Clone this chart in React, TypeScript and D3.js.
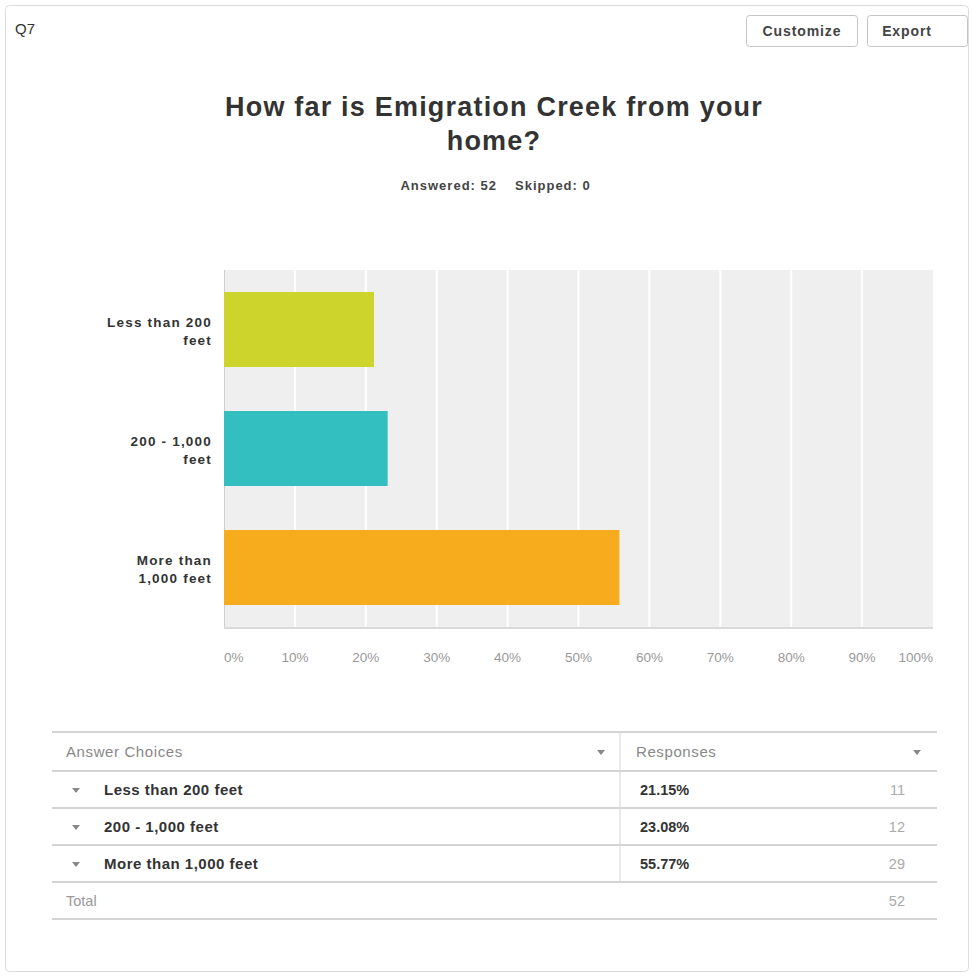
import React from "react";
import * as d3 from "d3";

const categories = ["Less than 200 feet", "200 - 1,000 feet", "More than 1,000 feet"];
const axisLabelLines = [["Less than 200", "feet"], ["200 - 1,000", "feet"], ["More than", "1,000 feet"]];
const percents = [21.15, 23.08, 55.77];
const counts = [11, 12, 29];
const barColors = ["#cdd42b", "#33bebf", "#f7ac1e"];
const ticks = [0, 10, 20, 30, 40, 50, 60, 70, 80, 90, 100];
const total = 52;
const answered = 52;
const skipped = 0;

const W = 972;
const H = 977;
const plot = { left: 224, right: 933, top: 270, bottom: 627 };

export default function App() {
  const x = d3.scaleLinear().domain([0, 100]).range([plot.left, plot.right]);
  const y = d3
    .scaleBand<string>()
    .domain(categories)
    .range([plot.top, plot.bottom])
    .paddingInner(0.37)
    .paddingOuter(0.185);

  const font = "'Liberation Sans', Arial, Helvetica, sans-serif";
  const tbl = { left: 52, right: 937, div: 620 };
  const rowLines = [732, 771, 808, 845, 882, 919];

  const tri = (cx: number, cy: number, c: string) => (
    <path d={`M${cx - 4},${cy - 2} L${cx + 4},${cy - 2} L${cx},${cy + 3} Z`} fill={c} />
  );

  return (
    <div style={{ position: "absolute", left: 0, top: 0 }}>
      <svg width={W} height={H} style={{ display: "block", fontFamily: font }}>
        <rect x={0} y={0} width={W} height={H} fill="#ffffff" />
        <rect x={5.5} y={5.5} width={963} height={966} rx={4} fill="#ffffff" stroke="#dcdcdc" />
        <text x={15} y={34} fontSize={15} fill="#333">Q7</text>

        {/* buttons */}
        <rect x={746.5} y={15.5} width={111} height={31} rx={3} fill="#fff" stroke="#c4c4c4" />
        <text x={802} y={36} fontSize={14} fontWeight="bold" fill="#444" textAnchor="middle" letterSpacing={0.9}>Customize</text>
        <rect x={867.5} y={15.5} width={100} height={31} rx={3} fill="#fff" stroke="#c4c4c4" />
        <text x={907} y={36} fontSize={14} fontWeight="bold" fill="#444" textAnchor="middle" letterSpacing={0.9}>Export</text>

        {/* title */}
        <text x={494} y={116} fontSize={27} fontWeight="bold" fill="#333" textAnchor="middle" letterSpacing={1.2}>How far is Emigration Creek from your</text>
        <text x={494} y={150} fontSize={27} fontWeight="bold" fill="#333" textAnchor="middle" letterSpacing={1.2}>home?</text>
        <text x={497} y={190} fontSize={13} fontWeight="bold" fill="#444" textAnchor="end" letterSpacing={1}>
          {`Answered: ${answered}`}
        </text>
        <text x={515} y={190} fontSize={13} fontWeight="bold" fill="#444" textAnchor="start" letterSpacing={1}>
          {`Skipped: ${skipped}`}
        </text>

        {/* plot background */}
        <rect x={plot.left} y={plot.top} width={plot.right - plot.left} height={plot.bottom - plot.top} fill="#efefef" />
        {ticks.slice(1, -1).map((t) => (
          <line key={t} x1={x(t)} x2={x(t)} y1={plot.top} y2={plot.bottom} stroke="#ffffff" strokeWidth={2} />
        ))}
        <line x1={plot.left} x2={plot.right} y1={plot.bottom + 1} y2={plot.bottom + 1} stroke="#dadada" strokeWidth={2} />
        <line x1={plot.left + 0.5} x2={plot.left + 0.5} y1={plot.top} y2={plot.bottom} stroke="#cfcfcf" strokeWidth={1} />

        {/* bars */}
        {categories.map((c, i) => (
          <rect key={c} x={x(0)} y={y(c)} width={x(percents[i]) - x(0)} height={y.bandwidth()} fill={barColors[i]} />
        ))}

        {/* y labels */}
        {categories.map((c, i) => {
          const cy = (y(c) as number) + y.bandwidth() / 2;
          return (
            <text key={c} x={212} y={cy - 3} fontSize={13.5} fontWeight="bold" fill="#333" textAnchor="end" letterSpacing={1.2}>
              {axisLabelLines[i].map((l, j) => (
                <tspan key={j} x={212} dy={j === 0 ? 0 : 18}>{l}</tspan>
              ))}
            </text>
          );
        })}

        {/* x tick labels */}
        {ticks.map((t, i) => (
          <text
            key={t}
            x={x(t)}
            y={662}
            fontSize={13.5}
            fill="#999"
            textAnchor={i === 0 ? "start" : i === ticks.length - 1 ? "end" : "middle"}
          >
            {`${t}%`}
          </text>
        ))}

        {/* table */}
        {rowLines.map((ly, i) => (
          <line key={i} x1={tbl.left} x2={tbl.right} y1={ly} y2={ly} stroke="#d4d4d4" strokeWidth={2} />
        ))}
        <line x1={tbl.div} x2={tbl.div} y1={rowLines[0]} y2={rowLines[4]} stroke="#d4d4d4" strokeWidth={1} />
        <text x={66} y={757} fontSize={15} fill="#888" letterSpacing={0.6}>Answer Choices</text>
        {tri(601, 752, "#888")}
        <text x={636} y={757} fontSize={15} fill="#888" letterSpacing={0.6}>Responses</text>
        {tri(917, 752, "#888")}

        {categories.map((c, i) => {
          const ty = rowLines[i + 1] + 24;
          return (
            <g key={c}>
              {tri(76, ty - 5, "#888")}
              <text x={104} y={ty} fontSize={15} fontWeight="bold" fill="#333" letterSpacing={0.5}>{c}</text>
              <text x={640} y={ty} fontSize={14.5} fontWeight="bold" fill="#333">{`${percents[i].toFixed(2)}%`}</text>
              <text x={905} y={ty} fontSize={14.5} fill="#aaa" textAnchor="end">{counts[i]}</text>
            </g>
          );
        })}
        <text x={66} y={rowLines[4] + 24} fontSize={14.5} fill="#999">Total</text>
        <text x={905} y={rowLines[4] + 24} fontSize={14.5} fill="#aaa" textAnchor="end">{total}</text>
      </svg>
    </div>
  );
}
